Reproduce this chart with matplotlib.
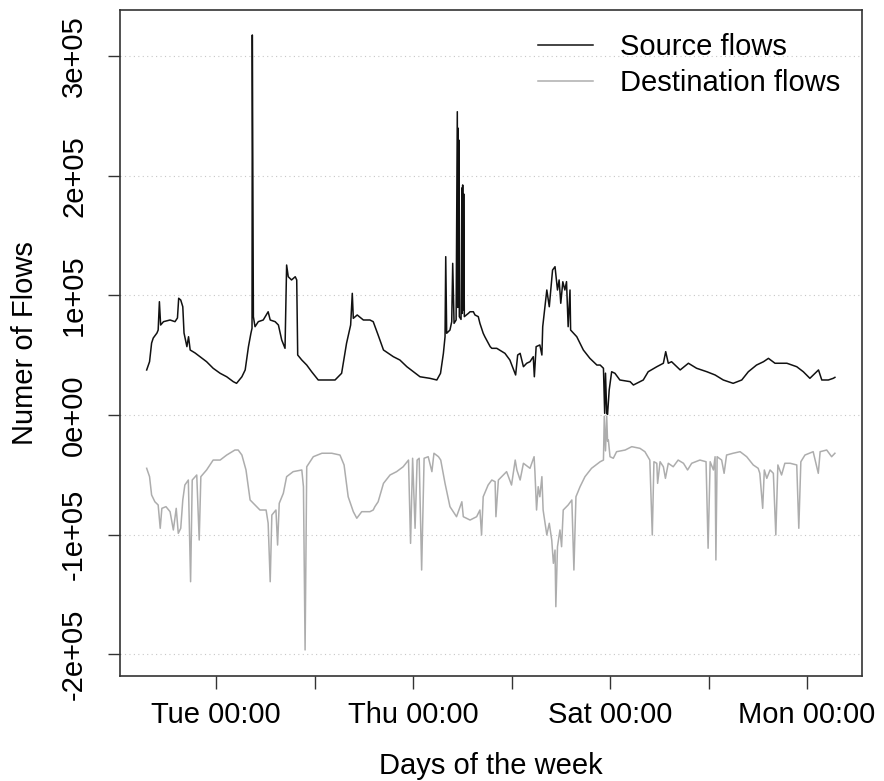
import matplotlib
matplotlib.use("Agg")
import matplotlib.pyplot as plt

# hours since Monday 00:00, values in thousands of flows
src_hours = [7.1, 7.8, 8.3, 8.7, 9.6, 9.9, 10.2, 10.5, 11.2, 12.8,
             14.0, 14.6, 14.9, 15.4, 15.9, 16.2, 16.9, 17.3, 17.7, 18.9,
             20.1, 21.7, 23.3, 25.0, 26.6, 28.2, 29.0, 30.3, 31.1, 31.9,
             32.5, 32.77, 32.84, 33.1, 33.5, 34.3, 35.5, 36.7, 37.2, 38.4,
             39.2, 40.0, 40.81, 41.2, 41.6, 42.4, 43.3, 43.66, 43.9, 44.9,
             46.1, 47.3, 48.9, 51.0, 53.0, 54.6, 55.8, 56.8, 57.2, 57.45,
             58.4, 59.9, 61.5, 62.3, 63.5, 64.8, 67.2, 68.8, 70.5, 72.1,
             73.7, 76.1, 77.8, 78.7, 79.4, 79.8, 79.97, 80.2, 81.0, 81.43,
             81.67, 82.0, 82.5, 82.79, 82.9, 83.0, 83.1, 83.2, 83.28, 83.7,
             83.9, 84.0, 84.1, 84.25, 84.35, 84.5, 85.5, 85.9, 86.7, 87.1,
             87.9, 88.3, 89.1, 89.5, 90.8, 91.2, 92.4, 94.4, 95.6, 97.0,
             97.5, 98.1, 98.9, 99.7, 100.5, 101.3, 101.56, 102.0, 102.9, 103.4,
             103.6, 104.6, 105.2, 106.0, 106.6, 107.2, 107.6, 108.0, 108.5, 109.0,
             109.4, 109.8, 110.25, 110.4, 111.9, 113.5, 115.1, 116.8, 117.6, 118.4,
             118.7, 118.9, 119.2, 119.4, 119.8, 120.4, 121.2, 122.4, 124.9, 125.7,
             128.1, 129.3, 131.4, 133.0, 133.57, 134.2, 135.0, 137.1, 139.1, 141.1,
             143.6, 145.6, 147.6, 150.0, 152.1, 153.7, 155.7, 157.4, 158.6, 160.2,
             163.1, 165.5, 167.1, 168.7, 170.8, 171.6, 173.2, 174.4, 174.8]
src_kflows = [37.7, 44.6, 60.2, 64.4, 68.6, 71.1, 94.8, 75.3, 78.1, 79.5,
              78.1, 81.2, 97.7, 96.2, 90.6, 68.6, 57.2, 65.5, 54.4, 51.9,
              48.8, 44.6, 39.1, 34.9, 32.0, 27.9, 26.5, 32.0, 37.7, 57.2,
              68.4, 72.6, 318.0, 82.3, 73.9, 78.1, 79.5, 86.4, 79.5, 78.1,
              75.3, 62.8, 55.8, 125.5, 115.7, 113.0, 115.7, 113.0, 50.2, 46.0,
              41.8, 36.2, 29.3, 29.3, 29.3, 34.9, 60.0, 75.3, 101.8, 80.9,
              83.7, 79.5, 79.5, 78.1, 66.9, 54.4, 48.8, 46.0, 40.4, 36.2,
              32.0, 30.7, 29.3, 34.9, 51.6, 65.5, 132.5, 68.4, 71.1, 78.1,
              126.9, 76.7, 79.5, 253.8, 90.0, 240.0, 95.0, 230.0, 82.3, 80.0,
              190.0, 85.0, 192.5, 88.0, 185.0, 82.3, 85.1, 86.4, 86.4, 83.7,
              82.3, 76.7, 68.4, 65.5, 57.2, 55.8, 55.8, 51.6, 46.0, 33.5,
              50.2, 51.6, 40.4, 43.3, 44.6, 48.8, 32.0, 57.2, 58.6, 50.2,
              73.9, 104.6, 90.6, 121.3, 124.1, 104.6, 113.0, 93.5, 111.5, 104.6,
              111.6, 73.9, 104.6, 71.1, 65.5, 54.4, 47.4, 41.8, 41.8, 39.1,
              1.4, 35.0, 1.4, 0.5, 20.9, 36.2, 34.9, 29.3, 27.9, 25.1,
              29.3, 36.2, 40.4, 43.3, 53.0, 43.3, 44.6, 37.7, 43.3, 39.1,
              36.2, 33.5, 29.3, 26.5, 29.3, 36.2, 41.8, 44.6, 47.4, 43.3,
              43.3, 40.4, 36.2, 30.7, 37.7, 29.3, 29.3, 30.7, 31.5]

dst_hours = [7.1, 7.8, 8.3, 9.1, 9.9, 10.4, 10.8, 11.8, 12.8, 13.6,
             14.3, 14.8, 15.4, 15.9, 16.4, 17.25, 17.8, 18.2, 19.3, 19.9,
             20.3, 21.7, 23.3, 25.0, 26.6, 28.6, 29.4, 30.3, 31.3, 32.3,
             33.9, 34.7, 36.2, 36.7, 37.2, 37.6, 38.6, 39.0, 39.4, 40.4,
             41.2, 42.8, 44.9, 45.3, 45.7, 46.1, 47.7, 49.8, 52.2, 54.2,
             55.2, 56.2, 57.45, 58.3, 59.5, 61.5, 62.3, 62.7, 63.5, 64.8,
             66.4, 68.0, 69.6, 70.9, 71.4, 71.9, 72.5, 73.0, 73.5, 74.1,
             74.7, 75.7, 76.6, 77.1, 78.2, 78.75, 79.8, 81.0, 82.6, 83.9,
             84.25, 85.9, 87.5, 88.3, 88.7, 89.1, 90.3, 91.2, 92.0, 92.2,
             92.8, 94.8, 96.0, 96.9, 97.3, 98.1, 98.9, 100.5, 101.5, 101.7,
             102.1, 102.5, 102.9, 103.4, 103.7, 104.6, 105.2, 105.8, 106.2, 106.6,
             106.8, 107.2, 107.8, 108.2, 108.6, 109.8, 110.7, 111.2, 111.7, 112.7,
             113.9, 115.5, 117.6, 118.4, 118.6, 118.9, 119.2, 119.4, 119.6, 120.0,
             120.8, 121.6, 123.7, 125.3, 127.3, 128.5, 129.7, 130.3, 130.7, 131.4,
             131.6, 132.2, 133.0, 133.5, 134.2, 135.4, 136.6, 137.9, 138.9, 139.9,
             141.9, 143.4, 143.9, 144.4, 145.2, 145.6, 145.8, 146.1, 147.2, 147.8,
             148.4, 150.0, 151.7, 153.3, 154.9, 156.1, 156.5, 157.2, 157.6, 158.2,
             159.0, 159.8, 160.4, 160.9, 161.8, 162.6, 163.9, 165.5, 166.0, 166.5,
             167.5, 169.5, 170.75, 171.2, 172.8, 174.0, 174.8]
dst_kflows = [-44.6, -51.6, -66.9, -72.6, -75.3, -94.8, -78.1, -76.7, -80.9, -96.2,
              -78.1, -99.0, -94.8, -71.1, -58.6, -54.4, -139.5, -54.4, -50.2, -104.6,
              -51.6, -46.0, -37.7, -37.7, -33.5, -29.3, -29.3, -33.5, -46.0, -71.1,
              -76.7, -79.5, -79.5, -90.6, -139.5, -83.7, -79.5, -108.8, -73.9, -65.5,
              -51.6, -47.4, -46.0, -60.0, -196.6, -43.3, -34.9, -32.0, -32.0, -33.5,
              -41.8, -68.4, -80.9, -86.4, -80.9, -80.9, -79.5, -76.7, -72.6, -57.2,
              -50.2, -47.4, -43.3, -37.7, -107.4, -36.2, -94.8, -37.7, -36.2, -129.7,
              -36.2, -34.9, -47.4, -32.0, -34.9, -37.7, -57.2, -76.7, -85.1, -72.6,
              -85.1, -87.9, -85.1, -79.5, -100.4, -68.4, -58.6, -54.4, -55.8, -85.1,
              -54.4, -47.4, -58.6, -37.7, -46.0, -54.4, -40.4, -44.6, -34.9, -47.4,
              -79.5, -60.0, -68.4, -51.6, -79.5, -100.4, -90.6, -104.6, -124.1, -113.0,
              -160.4, -110.2, -96.2, -110.2, -79.5, -75.3, -71.1, -129.7, -68.4, -60.0,
              -51.6, -44.6, -39.1, -37.7, -1.0, -30.0, -1.0, -22.0, -20.9, -34.9,
              -36.2, -30.7, -29.3, -26.5, -27.9, -30.7, -37.7, -100.4, -39.1, -40.4,
              -57.2, -39.1, -43.3, -53.0, -40.4, -43.3, -37.7, -40.4, -46.0, -40.4,
              -37.7, -39.1, -111.5, -39.1, -46.0, -34.9, -121.3, -34.9, -37.7, -48.8,
              -33.5, -32.0, -30.7, -34.9, -41.8, -44.6, -48.8, -78.1, -46.0, -53.0,
              -46.0, -48.8, -100.4, -41.8, -50.2, -40.4, -40.4, -41.8, -94.8, -39.1,
              -33.5, -30.7, -48.8, -30.7, -29.3, -34.9, -32.0]

day_ticks = [24, 48, 72, 96, 120, 144, 168]
day_labels = ["Tue 00:00", "", "Thu 00:00", "", "Sat 00:00", "", "Mon 00:00"]
y_ticks = [-2e5, -1e5, 0, 1e5, 2e5, 3e5]
legend_labels = ["Source flows", "Destination flows"]

assert len(src_hours) == len(src_kflows)
assert len(dst_hours) == len(dst_kflows)

plt.rcParams["font.family"] = ["Liberation Sans", "DejaVu Sans"]
fs = 21

W, H = 884, 781
fig = plt.figure(figsize=(W / 100, H / 100), dpi=100)
ax = fig.add_axes([120 / W, 1 - 676 / H, 742 / W, 666 / H])

dst_line, = ax.plot(dst_hours, [v * 1000 for v in dst_kflows], color="#adadad", lw=1.1)
src_line, = ax.plot(src_hours, [v * 1000 for v in src_kflows], color="#111111", lw=1.1)

ax.set_xlim(0.6, 181.4)
ax.set_ylim(-218.4e3, 338.9e3)

ax.set_yticks(y_ticks)
ax.set_yticklabels([f"{v:.0e}" for v in y_ticks], rotation=90, va="center")
ax.set_xticks(day_ticks)
ax.set_xticklabels(day_labels)
ax.tick_params(axis="both", length=9, width=1, color="#333333", labelsize=fs)
ax.tick_params(axis="x", pad=9)
ax.tick_params(axis="y", pad=14)

ax.grid(axis="y", linestyle=(0, (1, 3)), color="#c8c8c8", lw=0.8)
ax.set_axisbelow(True)
for s in ax.spines.values():
    s.set_color("#333333")
    s.set_linewidth(1.2)

fig.text(491 / W, 1 - 766 / H, "Days of the week", ha="center", va="center", fontsize=fs)
fig.text(25 / W, 1 - 343 / H, "Numer of Flows", ha="center", va="center", rotation=90, fontsize=fs)

ax.legend([src_line, dst_line], legend_labels, loc="upper left",
          bbox_to_anchor=(538 / W, 1 - 33 / H), bbox_transform=fig.transFigure,
          frameon=False, fontsize=fs, borderpad=0, borderaxespad=0,
          handlelength=1.9, handletextpad=0.9, labelspacing=0.28)

fig.savefig("out.png", dpi=100)
